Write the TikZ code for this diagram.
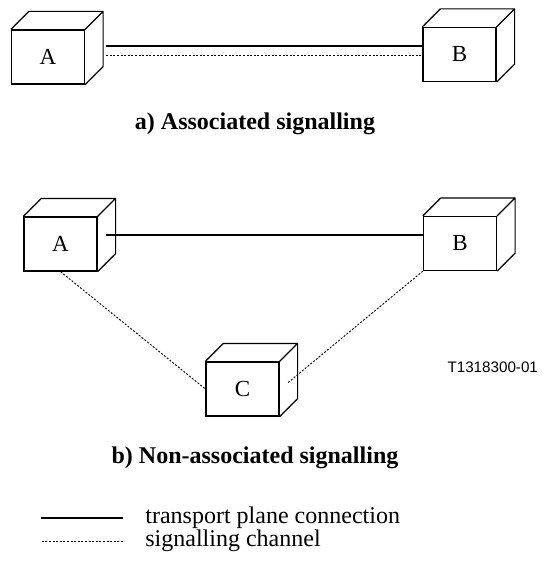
\documentclass[tikz,border=0pt]{standalone}
\usepackage{fontspec}
\setmainfont{Liberation Serif}
\newfontfamily\codefont{Liberation Sans}
\usetikzlibrary{calc}

% top and side face of a box node
\newcommand{\boxdepth}[1]{%
  \draw[line width=0.6pt, line join=round] (#1.north west) -- ++(18,-18)
    -- ([shift={(18,-18)}]#1.north east) -- ([shift={(18,-18)}]#1.south east)
    -- (#1.south east) (#1.north east) -- ++(18,-18);}

\begin{document}
\begin{tikzpicture}[x=0.5pt, y=-0.5pt,
  unit/.style={draw, line width=0.6pt, minimum width=36.5pt, minimum height=27pt,
    inner sep=0pt, font=\fontsize{11.5}{13}\selectfont},
  transport/.style={line width=1.4pt},
  signal/.style={line width=0.45pt, dash pattern=on 1pt off 0.8pt},
  plain/.style={line width=0.6pt},
  title/.style={font=\fontsize{12}{14}\selectfont\bfseries},
  legend/.style={anchor=west, inner sep=0pt, font=\fontsize{12}{14}\selectfont}
]
\useasboundingbox (0,0) rectangle (546,567);

% a) associated
\node[unit] (a1) at (48,57) {A};
\node[unit] (b1) at (459.5,54.5) {B};
\boxdepth{a1}
\boxdepth{b1}
\draw[transport] ([shift={(21,-11)}]a1.east) coordinate (t1) -- (t1 -| b1.west);
\draw[signal] ([shift={(21,-2)}]a1.east) coordinate (s1) -- (s1 -| b1.west);
\node[title] (capa) at (255,124) {a) Associated signalling};

% b) non-associated
\node[unit] (a2) at (60.5,244) {A};
\node[unit] (b2) at (460,243.5) {B};
\node[unit] (c) at (242.5,389) {C};
\boxdepth{a2}
\boxdepth{b2}
\boxdepth{c}
\draw[transport] ([shift={(8,-9)}]a2.east) coordinate (t2) -- (t2 -| b2.west);
\draw[signal] (a2.south) -- (c.west);
\draw[signal] (b2.south west) -- ([shift={(8,-6)}]c.east);
\node[anchor=east, font=\codefont\fontsize{7.6}{10}\selectfont] (code) at (545,367) {T1318300-01};
\node[title] (capb) at (255,458) {b) Non-associated signalling};

% legend
\node[legend] (lg1) at (145,518) {transport plane connection};
\node[legend] (lg2) at (145,541) {signalling channel};
\draw[plain] ([xshift=-11pt]lg1.west) -- ++(-82,0);
\draw[signal] ([xshift=-11pt]lg2.west) -- ++(-82,0);
\end{tikzpicture}
\end{document}
